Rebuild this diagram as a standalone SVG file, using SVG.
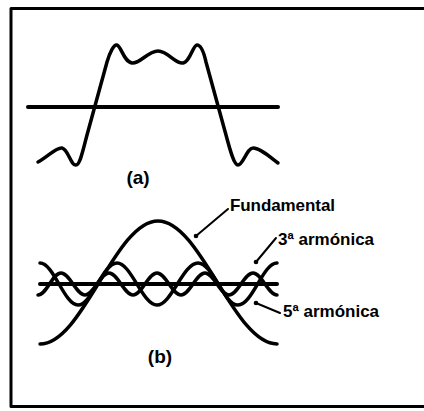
<svg xmlns="http://www.w3.org/2000/svg" width="424" height="411" viewBox="0 0 424 411">
<style>
.ln{fill:none;stroke:#000;stroke-linecap:round;stroke-linejoin:round}
.w{stroke-width:3.5}
.ax{stroke-width:4}
.ld{stroke-width:2}
.t{font-family:"Liberation Sans",Arial,sans-serif;font-weight:bold;font-size:17px;fill:#000}
.p{font-size:19px}
</style>
<rect width="424" height="411" fill="#fff"/>
<polyline class="ln" style="stroke-width:3;stroke-linecap:butt" points="424,8.5 11,8.5 11,406.5 424,406.5"/>
<g id="panel-a">
<line class="ln ax" x1="28" y1="107" x2="278" y2="107"/>
<path class="ln w" d="M38,162 C48,157 56,147 62,148 C68,149 71,166 76,165 C80,165 83,150 87,135 L107,62 C110,52 114,44 117,45 C121,46 124,62 132,63 C140,64 148,51 158,51 C168,51 175,64 183,63 C190,62 193,45 197,45 C201,45 204,53 206,62 L226,135 C230,150 234,165 238,165 C243,165 247,148 253,148 C260,148 270,157 278,163"/>
<text class="t p" x="138" y="184" text-anchor="middle">(a)</text>
</g>
<g id="panel-b">
<line class="ln ax" x1="40" y1="284" x2="277" y2="284"/>
<path id="fundamental" class="ln w" d="M40,344 C82.9,344 115.1,221 158,221 S233.8,344 277,344"/>
<path id="h3" class="ln w" d="M40,263 C53.8,263 64.2,305 78,305 S102.8,263 117,263 S142.5,305 157,305 S183.1,263 198,263 S223.5,305 238,305 S262.8,263 277,263"/>
<path id="h5" class="ln w" d="M38,295 C46.7,295 52.3,273 61,273 S76.3,295 85,295 S100.3,273 109,273 S124.3,295 133,295 S148.3,273 157,273 S172.3,295 181,295 S196.3,273 205,273 S220.3,295 229,295 S244.3,273 253,273 S268.3,295 277,295"/>
<text class="t p" x="160" y="363" text-anchor="middle">(b)</text>
</g>
<g id="label-fundamental"><text class="t" x="230" y="211" textLength="105">Fundamental</text></g>
<g id="label-3"><text class="t" x="278" y="245">3ª armónica</text></g>
<g id="label-5"><text class="t" x="283" y="317">5ª armónica</text></g>
<g id="connectors">
<line class="ln ld" x1="228" y1="209" x2="196" y2="236"/>
<circle cx="196" cy="236" r="2.3"/>
<line class="ln ld" x1="276" y1="238" x2="256" y2="262"/>
<circle cx="256" cy="262" r="2.3"/>
<line class="ln ld" x1="280" y1="313" x2="256" y2="303"/>
<circle cx="256" cy="303" r="2.3"/>
</g>
</svg>
